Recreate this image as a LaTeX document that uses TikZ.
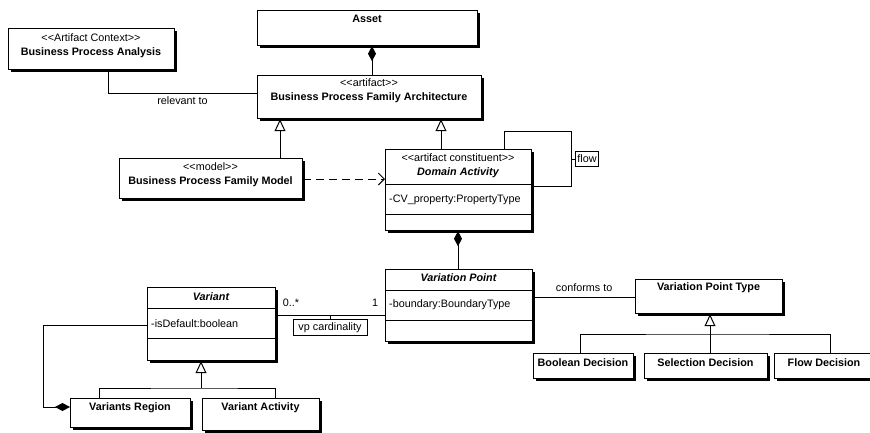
\documentclass[tikz,border=0pt]{standalone}
\usepackage{fontspec}
\setmainfont{Liberation Sans}[Ligatures=TeXOff]
\usetikzlibrary{arrows.meta,shadows}
\newcommand{\classbox}[5]{\node[box,anchor=north west,minimum width={(#4)-(#2)},minimum height={(#5)-(#3)}] (#1) at (#2,#3) {};}
\begin{document}
\begin{tikzpicture}[x=1pt,y=-1pt,
  box/.style={draw,line width=1.2pt,fill=white,drop shadow={shadow xshift=2pt,shadow yshift=-2pt,fill=black,opacity=1},inner sep=0pt},
  txt/.style={inner sep=0pt,font=\fontsize{10.8}{12}\selectfont},
  nm/.style={inner sep=0pt,font=\fontsize{10.8}{12}\selectfont\bfseries},
  anm/.style={inner sep=0pt,font=\fontsize{10.8}{12}\selectfont\bfseries\itshape},
  attr/.style={txt,anchor=west},
  conn/.style={line width=1pt},
  divider/.style={line width=1pt},
  compo/.style={conn,-{Diamond[length=15pt,width=8pt]}},
  gen/.style={conn,-{Triangle[open,length=12pt,width=11pt,line width=1pt]}},
  dep/.style={conn,dash pattern=on 8pt off 5pt,-{Straight Barb[length=6pt,width=12pt,line width=1pt]}},
  tag/.style={draw,line width=0.9pt,fill=white,inner sep=2pt,font=\fontsize{10.8}{12}\selectfont}
]
\useasboundingbox (0,0) rectangle (870,432);
\clip (0,0) rectangle (870,432);

% boxes
\classbox{asset}{257}{10}{477}{45}
\classbox{bpa}{8}{28}{174}{69}
\classbox{bpfa}{257}{75}{481}{118}
\classbox{bpfm}{119}{158}{302}{198}
\classbox{da}{385}{149}{531}{230}
\classbox{vp}{385}{269}{532}{341}
\classbox{vpt}{635}{279}{782}{313}
\classbox{bool}{533}{353}{633}{378}
\classbox{sel}{644}{353}{767}{378}
\classbox{flowd}{774}{353}{875}{378}
\classbox{variant}{147}{287}{275}{360}
\classbox{vr}{70}{398}{190}{427}
\classbox{va}{202}{398}{319}{430}

% dividers
\draw[divider] (da.west |- 0,184) -- (da.east |- 0,184);
\draw[divider] (da.west |- 0,214) -- (da.east |- 0,214);
\draw[divider] (vp.west |- 0,290) -- (vp.east |- 0,290);
\draw[divider] (vp.west |- 0,320) -- (vp.east |- 0,320);
\draw[divider] (variant.west |- 0,308) -- (variant.east |- 0,308);
\draw[divider] (variant.west |- 0,338) -- (variant.east |- 0,338);

% texts
\node[nm] (asset-n) at (367,19) {Asset};
\node[txt] (bpa-s) at (91,38) {<<Artifact Context>>};
\node[nm] (bpa-n) at (91,53) {Business Process Analysis};
\node[txt] (bpfa-s) at (369,83) {<<artifact>>};
\node[nm] (bpfa-n) at (369,98) {Business Process Family Architecture};
\node[txt] (bpfm-s) at (210.5,167) {<<model>>};
\node[nm] (bpfm-n) at (210.5,182) {Business Process Family Model};
\node[txt] (da-s) at (458,158) {<<artifact constituent>>};
\node[anm] (da-n) at (458,173) {Domain Activity};
\node[attr] (da-a) at (389,200) {-CV\_property:PropertyType};
\node[anm] (vp-n) at (458.5,278) {Variation Point};
\node[attr] (vp-a) at (389,305) {-boundary:BoundaryType};
\node[nm] (vpt-n) at (708.5,288) {Variation Point Type};
\node[nm] (bool-n) at (583,363) {Boolean Decision};
\node[nm] (sel-n) at (705.5,363) {Selection Decision};
\node[nm] (flowd-n) at (824,363) {Flow Decision};
\node[anm] (variant-n) at (211,297) {Variant};
\node[attr] (variant-a) at (151,324) {-isDefault:boolean};
\node[nm] (vr-n) at (130,408) {Variants Region};
\node[nm] (va-n) at (260.5,408) {Variant Activity};

% connectors
\draw[compo] (bpfa.north -| 372,0) -- (asset.south -| 372,0);
\draw[conn] (bpa.south -| 108,0) |- (bpfa.west |- 0,93)
  node[txt,pos=0.75,below=3pt] (rel) {relevant to};
\draw[gen] (bpfm.north -| 280,0) -- (bpfa.south -| 280,0);
\draw[gen] (da.north -| 441,0) -- (bpfa.south -| 441,0);
\draw[dep] (bpfm.east |- 0,179) -- (da.west |- 0,179);

% flow self loop
\coordinate (loopr) at (571,159);
\draw[conn] (da.north -| 504,0) -- (504,131) -- (571,131) -- (571,186) -- (da.east |- 0,186);
\node[tag,anchor=west,minimum height=15pt] (flowtag) at (575,159) {flow};
\draw[conn] (loopr) -- (flowtag.west);

\draw[compo] (vp.north -| 458,0) -- (da.south -| 458,0);
\draw[conn] (vp.east |- 0,297) -- (vpt.west |- 0,297)
  node[txt,midway,above=5pt] (conf) {conforms to};

% VPT generalisation tree
\coordinate (vbar) at (710,334);
\draw[gen] (vbar) -- (vpt.south -| 710,0);
\draw[conn] (bool.north -| 580,0) |- (vbar) -| (flowd.north -| 830,0);
\draw[conn] (sel.north -| 710,0) -- (vbar);

% Variant - VP association
\draw[conn] (variant.east |- 0,315) -- (vp.west |- 0,315);
\node[txt] (m1) at (291,303) {0..*};
\node[txt] (m2) at (375,303) {1};
\coordinate (cardt) at (330,315);
\node[tag,anchor=north,minimum width=74pt,minimum height=16pt] (card) at (330,319) {vp cardinality};
\draw[conn] (cardt) -- (card.north);

% Variant generalisation tree
\coordinate (gbar) at (201,388);
\draw[gen] (gbar) -- (variant.south -| 201,0);
\draw[conn] (vr.north -| 99,0) |- (gbar) -| (va.north -| 275,0);

% Variant - Variants Region composition
\draw[compo] (variant.west |- 0,325) -- (43,325) |- (vr.west |- 0,407);
\end{tikzpicture}
\end{document}
